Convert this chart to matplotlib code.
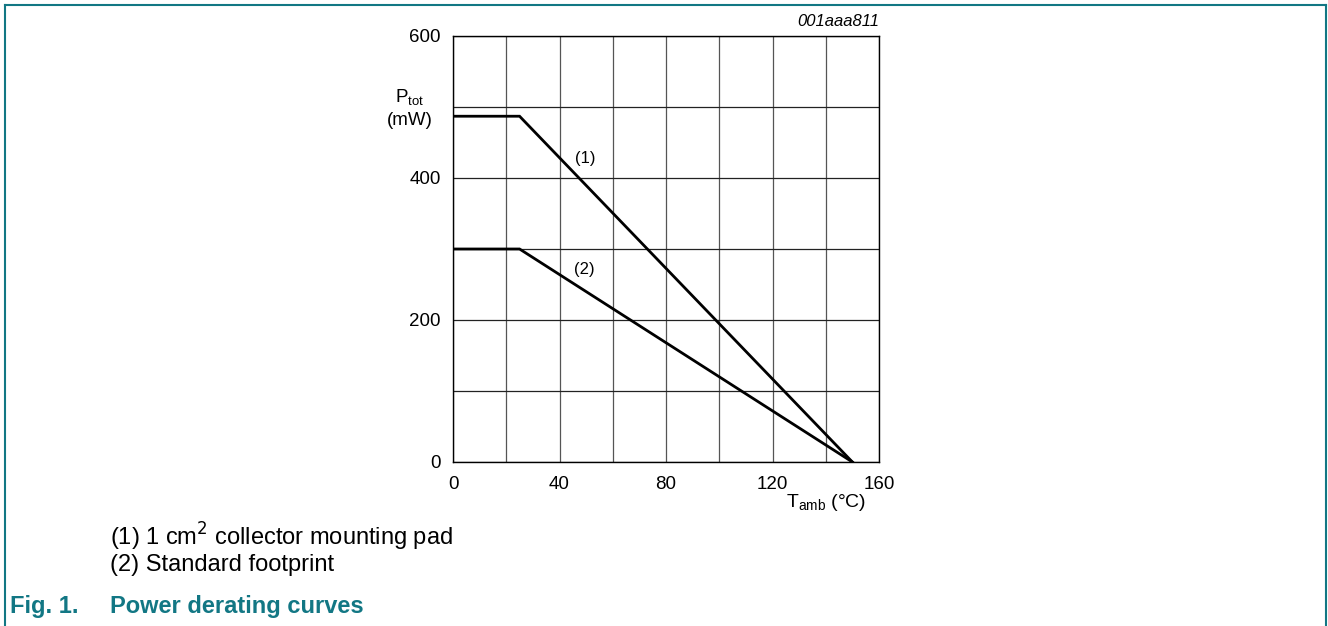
import matplotlib.pyplot as plt
from matplotlib.lines import Line2D

plt.rcParams['font.family'] = ['Liberation Sans', 'DejaVu Sans']

# derating curves (T_amb in degC, P_tot in mW)
t_curve1 = [0, 25, 150]
p_curve1 = [487, 487, 0]
t_curve2 = [0, 25, 150]
p_curve2 = [300, 300, 0]

curve_labels = ["(1)", "(2)"]
label_pos_t = [49.5, 49.5]
label_pos_p = [428, 271]

x_ticks = [0, 40, 80, 120, 160]
y_ticks = [0, 200, 400, 600]
x_grid = list(range(0, 161, 20))
y_grid = list(range(0, 601, 100))

notes = ["(1) 1 cm$^2$ collector mounting pad", "(2) Standard footprint"]

TEAL = "#127784"

fig = plt.figure(figsize=(13.28, 6.26), dpi=100)
ax = fig.add_axes([453 / 1328, 1 - 462 / 626, 426 / 1328, 426 / 626])

for x in x_grid:
    ax.axvline(x, color="#555555", lw=0.9, zorder=1)
for y in y_grid:
    ax.axhline(y, color="#222222", lw=0.9, zorder=1)

ax.plot(t_curve1, p_curve1, color="black", lw=2, zorder=3, solid_joinstyle="miter")
ax.plot(t_curve2, p_curve2, color="black", lw=2, zorder=3, solid_joinstyle="miter")
for lab, tx, py in zip(curve_labels, label_pos_t, label_pos_p):
    ax.text(tx, py, lab, fontsize=12, ha="center", va="center", zorder=4)

ax.set_xlim(0, 160)
ax.set_ylim(0, 600)
ax.set_xticks(x_ticks)
ax.set_yticks(y_ticks)
ax.tick_params(length=0, labelsize=13.5)
ax.tick_params(axis="x", pad=10)
ax.tick_params(axis="y", pad=9)
for s in ax.spines.values():
    s.set_linewidth(1.0)

ax.text(-0.102, 0.83, "P$_\\mathregular{tot}$\n(mW)", transform=ax.transAxes,
        fontsize=13.5, ha="center", va="center", linespacing=1.3)
ax.text(0.876, -0.095, "T$_\\mathregular{amb}$ (°C)", transform=ax.transAxes,
        fontsize=14, ha="center", va="center")
ax.text(1.0, 1.017, "001aaa811", transform=ax.transAxes, fontsize=12,
        style="italic", ha="right", va="bottom")

# frame around the figure
fig.add_artist(Line2D([5 / 1328, 5 / 1328], [0, 1 - 5 / 626], color=TEAL, lw=1.5))
fig.add_artist(Line2D([5 / 1328, 1326 / 1328], [1 - 5 / 626, 1 - 5 / 626], color=TEAL, lw=1.5))
fig.add_artist(Line2D([1326 / 1328, 1326 / 1328], [0, 1 - 5 / 626], color=TEAL, lw=1.5))

fig.text(110 / 1328, 1 - 537 / 626, notes[0], fontsize=17, va="center")
fig.text(110 / 1328, 1 - 565 / 626, notes[1], fontsize=17, va="center")
fig.text(10 / 1328, 1 - 606 / 626, "Fig. 1.", fontsize=17, weight="bold",
         color=TEAL, va="center")
fig.text(110 / 1328, 1 - 606 / 626, "Power derating curves", fontsize=17,
         weight="bold", color=TEAL, va="center")

fig.savefig("out.png", dpi=100)
